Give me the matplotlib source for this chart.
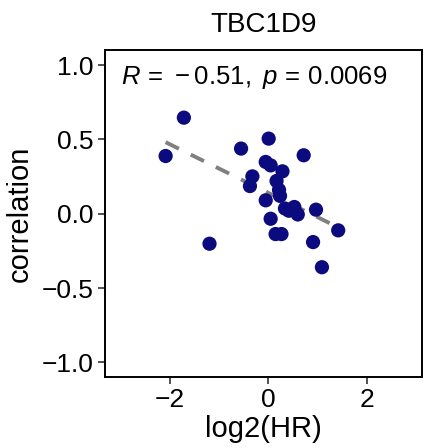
import numpy as np
import matplotlib
matplotlib.use('Agg')
import matplotlib.pyplot as plt

plt.rcParams['font.family'] = ['Liberation Sans', 'DejaVu Sans']
plt.rcParams['mathtext.fontset'] = 'custom'
plt.rcParams['mathtext.rm'] = 'Liberation Sans'
plt.rcParams['mathtext.it'] = 'Liberation Sans:italic'

gene = 'TBC1D9'
log2_hr = [-1.71, -2.08, 0.01, -0.55, 0.72, -0.05, 0.05, 0.29, -0.32, 0.17,
           -0.37, 0.24, -0.05, 0.34, 0.53, 0.60, 0.97, 0.05, 1.42, 0.15,
           0.27, -1.19, 0.91, 1.09, 0.42, 0.22]
correlation = [0.646, 0.388, 0.505, 0.438, 0.393, 0.348, 0.325, 0.285, 0.251, 0.22,
               0.186, 0.12, 0.09, 0.035, 0.045, -0.005, 0.027, -0.034, -0.112, -0.137,
               -0.137, -0.202, -0.191, -0.36, 0.02, 0.16]
stat_label = r'$R\,=\,-0.51,\ p\,=\,0.0069$'


def main():
    x = np.array(log2_hr)
    y = np.array(correlation)

    fig = plt.figure(figsize=(4.25, 4.48), dpi=100)
    ax = fig.add_axes([0.247, 0.158, 0.746, 0.73])

    slope, intercept = np.polyfit(x, y, 1)
    xs = np.array([x.min(), x.max()])
    ax.plot(xs, slope * xs + intercept, color='grey', lw=2.8,
            dashes=(3.8, 3.4), zorder=1)
    ax.scatter(x, y, s=105, color='#0b0b7f', edgecolors='none', zorder=2)

    ax.set_xlim(-3.31, 3.12)
    ax.set_ylim(-1.1, 1.1)
    ax.set_xticks([-2, 0, 2])
    ax.set_yticks([-1.0, -0.5, 0.0, 0.5, 1.0])
    ax.set_yticklabels(['\u22121.0', '\u22120.5', '0.0', '0.5', '1.0'])
    ax.set_xticklabels(['\u22122', '0', '2'])
    ax.tick_params(labelsize=19, length=5, width=1.2, color='#333333',
                   labelcolor='black', pad=3)
    for spine in ax.spines.values():
        spine.set_linewidth(1.4)
        spine.set_color('black')

    ax.set_xlabel('log2(HR)', fontsize=21, labelpad=2)
    ax.set_ylabel('correlation', fontsize=21, labelpad=6)
    ax.set_title(gene, fontsize=20, pad=13)
    ax.text(0.05, 0.915, stat_label, transform=ax.transAxes, fontsize=18.5,
            ha='left', va='center')

    fig.savefig('out.png', dpi=100)


if __name__ == '__main__':
    main()
